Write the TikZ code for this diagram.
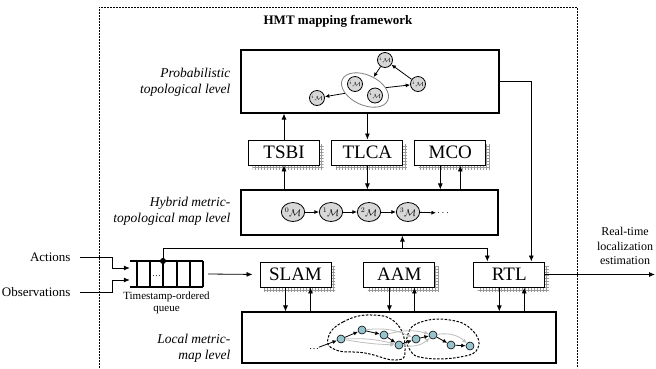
\documentclass[tikz,border=0pt]{standalone}
\usepackage{fontspec}
\setmainfont{Liberation Serif}
\usetikzlibrary{arrows.meta,positioning,calc,shapes.geometric,shadows,patterns}
\definecolor{HmtGray}{RGB}{215,215,215}
\definecolor{HmtPose}{RGB}{150,195,205}
\definecolor{HmtTrail}{RGB}{190,190,190}
\tikzset{
  nivel/.style={draw, line width=1.1pt, fill=white, inner sep=0pt},
  modulo/.style={draw, line width=0.9pt, fill=white, minimum width=71pt, minimum height=25pt,
                 inner sep=0pt, font=\fontsize{19}{19}\selectfont,
                 general shadow={shadow xshift=4pt, shadow yshift=-4pt, pattern=grid, pattern color=gray!80}},
  rotulo/.style={font=\fontsize{13.5}{15.5}\itshape, align=right, anchor=east},
  mapa/.style={ellipse, draw, line width=0.8pt, fill=HmtGray, minimum width=22pt, minimum height=19pt,
               inner sep=0pt, font=\fontsize{10}{10}\selectfont},
  mapinho/.style={circle, draw, line width=0.8pt, fill=HmtGray, minimum size=15pt, inner sep=0pt,
                  font=\fontsize{6}{6}\selectfont},
  pose/.style={circle, draw, line width=0.6pt, fill=HmtPose, minimum size=8pt, inner sep=0pt},
  seta/.style={-{Latex[length=6pt,width=5pt]}, line width=0.8pt},
  setinha/.style={-{Latex[length=4.5pt,width=4pt]}, line width=0.8pt},
  setacinza/.style={-{Latex[length=4.5pt,width=4pt]}, line width=0.8pt, HmtTrail},
  fila/.style={line width=2pt},
  moldura/.style={line width=0.6pt, dash pattern=on 2pt off 1pt},
}
\begin{document}
\begin{tikzpicture}[x=1pt, y=-1pt]
  \useasboundingbox (0,0) rectangle (656,368);
  % Moldura do framework
  \draw[moldura] (99,368) -- (99,7) -- (577,7) -- (577,368);
  \node[font=\fontsize{13}{13}\bfseries] (titulo) at (338,21) {HMT mapping framework};

  % Niveis
  \node[nivel, minimum width=258pt, minimum height=63pt] (topo) at (370,81.5) {};
  \node[nivel, minimum width=257pt, minimum height=45pt] (hibrido) at (369.5,212.5) {};
  \node[nivel, minimum width=314pt, minimum height=51pt] (local) at (399,337.5) {};
  \node[rotulo] (lbtopo) at (234,82) {Probabilistic\\topological level};
  \node[rotulo] (lbhibrido) at (234,211) {Hybrid metric-\\topological map level};
  \node[rotulo] (lblocal) at (234,348) {Local metric-\\map level};

  % Modulos
  \node[modulo] (tsbi) at (284,152.5) {TSBI};
  \node[modulo, right=11.5pt of tsbi] (tlca) {TLCA};
  \node[modulo, right=11pt of tlca] (mco) {MCO};
  \node[modulo] (slam) at (295.5,274.5) {SLAM};
  \node[modulo, right=32pt of slam] (aam) {AAM};
  \node[modulo, right=38pt of aam] (rtl) {RTL};

  % Ligacoes entre niveis e modulos
  \draw[seta] (hibrido.north -| tsbi) -- (tsbi.south);
  \draw[seta] (tsbi.north) -- (tsbi.north |- topo.south);
  \draw[seta] (topo.south -| tlca) -- (tlca.north);
  \draw[seta] (tlca.south) -- (tlca.south |- hibrido.north);
  \draw[seta] ([xshift=-10pt]mco.south) -- ([xshift=-10pt]mco.south |- hibrido.north);
  \draw[seta] ([xshift=10pt]mco.south |- hibrido.north) -- ([xshift=10pt]mco.south);
  \foreach \m in {slam,aam,rtl} {
    \draw[seta] ([xshift=-10pt]\m.south) -- ([xshift=-10pt]\m.south |- local.north);
    \draw[seta] ([xshift=15pt]\m.south |- local.north) -- ([xshift=15pt]\m.south);
  }
  \draw[seta] (topo.east) -| ([xshift=22pt]rtl.north);

  % Fila de entrada
  \node[inner sep=0pt, minimum width=73pt, minimum height=26pt] (fila) at (166.5,274) {};
  \draw[fila] (fila.north west) -- (fila.north east) (fila.south west) -- (fila.south east);
  \foreach \x in {137,150,163,177,190,203} \draw[fila] (\x,261) -- (\x,287);
  \node[font=\fontsize{9}{9}\selectfont] (filadots) at (156.5,276) {\dots};
  \node[font=\fontsize{11}{12.5}\selectfont, align=center, below=1pt of fila] (filatxt) {Timestamp-ordered\\queue};
  \coordinate (saida) at (163,261);
  \coordinate (ramo) at (163,248);
  \fill (saida) circle (3pt);
  \draw[seta] (saida) -- (ramo) -| ([xshift=-22pt]rtl.north);
  \draw[seta] ([xshift=3pt]aam.north |- ramo) -- ([xshift=3pt]aam.north |- hibrido.south);
  \draw[seta, shorten >=7pt] ([xshift=5pt]fila.east) -- (slam.west);

  % Entradas e saida
  \node[anchor=east, font=\fontsize{13}{13}\selectfont] (acoes) at (74,257) {Actions};
  \node[anchor=east, font=\fontsize{13}{13}\selectfont] (obs) at (74,292) {Observations};
  \draw[seta] ([xshift=6pt]acoes.east) -- ++(32,0) |- ([yshift=6pt]fila.west);
  \draw[seta] ([xshift=6pt]obs.east) -- ++(32,0) |- ([yshift=-6pt]fila.west);
  \coordinate (fim) at (655,274.5);
  \draw[seta] (rtl.east) -- (fim);
  \node[align=center, font=\fontsize{12}{14.5}\selectfont] (saidatxt) at (625,246) {Real-time\\localization\\estimation};

  % Nivel topologico probabilistico
  \node[ellipse, draw=gray, line width=0.8pt, minimum width=50pt, minimum height=30pt, rotate=-25] (grupo) at (365,90) {};
  \node[mapinho] (pa) at (385,60) {${}^{i}\mathcal{M}$};
  \node[mapinho] (pb) at (355,84) {${}^{i}\mathcal{M}$};
  \node[mapinho] (pc) at (375,95.5) {${}^{i}\mathcal{M}$};
  \node[mapinho] (pd) at (418,84) {${}^{i}\mathcal{M}$};
  \node[mapinho] (pe) at (317,98) {${}^{i}\mathcal{M}$};
  \draw[setinha] (pa) -- (grupo);
  \draw[setinha] (grupo) -- (pd);
  \draw[setinha] (pd) -- (pa);
  \draw[setinha] (grupo) -- (pe);

  % Nivel hibrido
  \foreach \i/\x in {0/293,1/331,2/369,3/408}
    \node[mapa] (m\i) at (\x,212) {${}^{\i}\mathcal{M}$};
  \foreach \i/\j in {0/1,1/2,2/3}
    \draw[setinha] (m\i) -- (m\j);
  \node[inner sep=1pt] (mdots) at (443,213) {$\cdots$};
  \draw[setinha] (m3) -- (mdots);

  % Nivel metrico local
  \draw[line width=1pt, dash pattern=on 2.5pt off 1.5pt] plot[smooth cycle, tension=0.8]
    coordinates {(328,338) (343,322) (372,315) (397,324) (405,350) (396,360) (365,353) (336,350)};
  \draw[line width=1pt, dash pattern=on 2.5pt off 1.5pt] plot[smooth cycle, tension=0.8]
    coordinates {(408,334) (421,322) (450,320) (472,330) (478,348) (460,357) (425,358) (410,350)};
  \foreach \n/\x/\y in {1/341/339, 2/362/330, 3/384/335, 4/399/345, 5/416/339, 6/433/335, 7/451/345, 8/470/346}
    \node[pose] (p\n) at (\x,\y) {};
  \draw[setacinza] (p1) to[bend left=8] (p4);
  \draw[setacinza] (p1) to[bend right=4] (p4);
  \draw[setacinza] (p2) to[bend left=15] (p5);
  \draw[setacinza] (p3) to[bend left=15] (p6);
  \draw[setacinza] (p4) to[bend right=25] (p6);
  \draw[setacinza] (p6) to[bend left=25] (p8);
  \foreach \a/\b in {1/2,2/3,3/4,4/5,5/6,6/7,7/8}
    \draw[setinha] (p\a) -- (p\b);
  \node[inner sep=1pt] (pdots) at (314,349) {\dots};
  \draw[setinha] (pdots) -- (p1);
\end{tikzpicture}
\end{document}
